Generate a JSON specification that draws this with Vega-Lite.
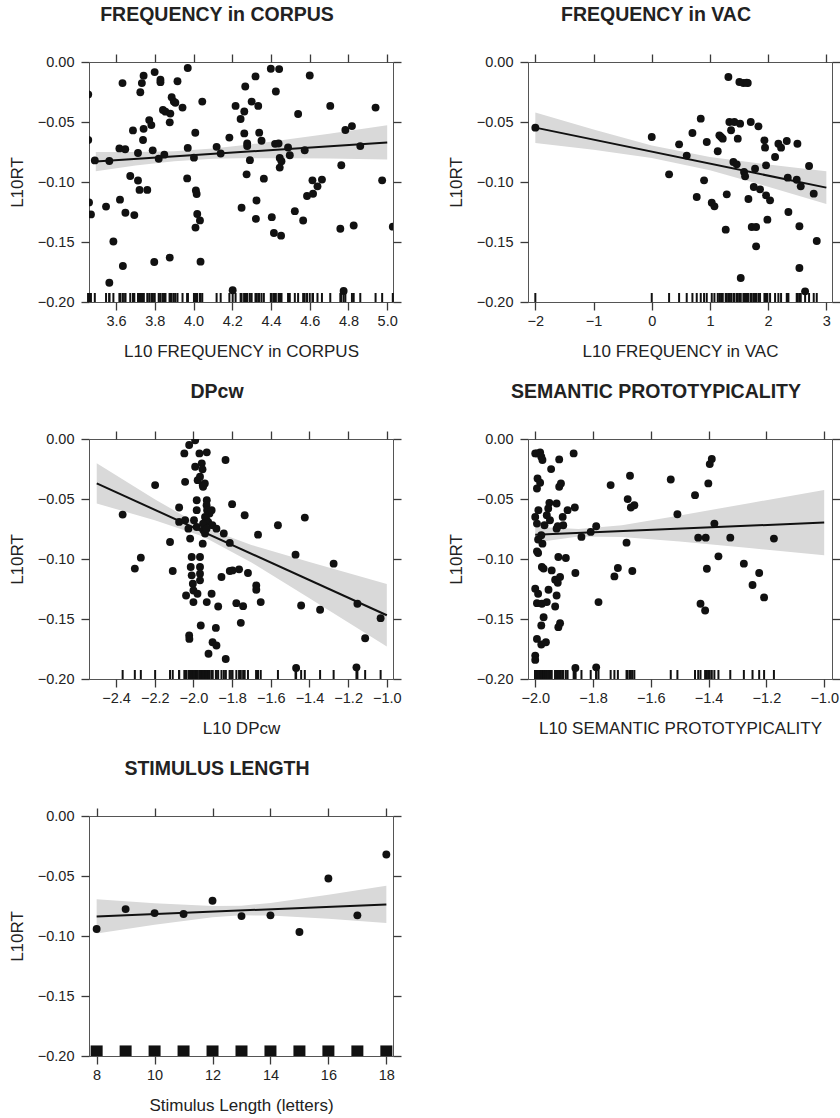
{
"$schema": "https://vega.github.io/schema/vega-lite/v6.json",
"background": "white",
"padding": {"left": 7, "top": 4, "right": 0, "bottom": 0},
"config": {
 "view": {"stroke": "#555", "strokeWidth": 1},
 "axis": {"domain": false, "grid": false, "ticks": true, "tickColor": "#3a3a3a", "tickSize": 8, "tickWidth": 1.3, "labelFont": "Liberation Sans", "labelFontSize": 14.5, "labelColor": "#222", "labelFlush": false, "labelOverlap": false, "titleFont": "Liberation Sans", "titleFontSize": 17, "titleFontWeight": "normal", "titleColor": "#222"},
 "axisX": {"labelPadding": 4, "titlePadding": 16},
 "axisY": {"labelPadding": 7, "titlePadding": 11},
 "title": {"font": "Liberation Sans", "fontSize": 19.5, "fontWeight": "bold", "color": "#222", "anchor": "middle", "frame": "group", "dx": -24, "offset": 28}
},
"datasets": {
 "p1": [{"x":3.456,"y":-0.027},{"x":3.456,"y":-0.065},{"x":3.46,"y":-0.117},{"x":3.47,"y":-0.127},{"x":3.49,"y":-0.082},{"x":3.548,"y":-0.1205},{"x":3.565,"y":-0.0825},{"x":3.565,"y":-0.184},{"x":3.586,"y":-0.1496},{"x":3.617,"y":-0.072},{"x":3.62,"y":-0.1147},{"x":3.633,"y":-0.0176},{"x":3.635,"y":-0.17},{"x":3.647,"y":-0.0727},{"x":3.648,"y":-0.1256},{"x":3.673,"y":-0.095},{"x":3.687,"y":-0.057},{"x":3.694,"y":-0.1276},{"x":3.713,"y":-0.0987},{"x":3.713,"y":-0.0758},{"x":3.721,"y":-0.1066},{"x":3.725,"y":-0.0252},{"x":3.733,"y":-0.0176},{"x":3.742,"y":-0.0115},{"x":3.742,"y":-0.0557},{"x":3.739,"y":-0.065},{"x":3.761,"y":-0.1066},{"x":3.771,"y":-0.0484},{"x":3.782,"y":-0.0526},{"x":3.789,"y":-0.0736},{"x":3.797,"y":-0.1667},{"x":3.799,"y":-0.0084},{"x":3.82,"y":-0.0806},{"x":3.829,"y":-0.0148},{"x":3.829,"y":-0.0168},{"x":3.842,"y":-0.04},{"x":3.849,"y":-0.0772},{"x":3.855,"y":-0.0414},{"x":3.877,"y":-0.0503},{"x":3.88,"y":-0.043},{"x":3.877,"y":-0.163},{"x":3.887,"y":-0.0294},{"x":3.898,"y":-0.033},{"x":3.906,"y":-0.034},{"x":3.917,"y":-0.016},{"x":3.943,"y":-0.038},{"x":3.967,"y":-0.097},{"x":3.97,"y":-0.005},{"x":3.97,"y":-0.0716},{"x":4.002,"y":-0.0797},{"x":4.009,"y":-0.059},{"x":4.012,"y":-0.107},{"x":4.016,"y":-0.11},{"x":4.019,"y":-0.1267},{"x":4.01,"y":-0.138},{"x":4.033,"y":-0.132},{"x":4.036,"y":-0.1664},{"x":4.045,"y":-0.033},{"x":4.119,"y":-0.0707},{"x":4.14,"y":-0.0763},{"x":4.185,"y":-0.063},{"x":4.217,"y":-0.0366},{"x":4.243,"y":-0.0475},{"x":4.248,"y":-0.1215},{"x":4.262,"y":-0.0413},{"x":4.262,"y":-0.0595},{"x":4.267,"y":-0.0204},{"x":4.274,"y":-0.0936},{"x":4.277,"y":-0.0679},{"x":4.277,"y":-0.0701},{"x":4.291,"y":-0.0818},{"x":4.3,"y":-0.033},{"x":4.32,"y":-0.012},{"x":4.322,"y":-0.1307},{"x":4.325,"y":-0.1154},{"x":4.334,"y":-0.0366},{"x":4.339,"y":-0.0589},{"x":4.351,"y":-0.0656},{"x":4.363,"y":-0.0972},{"x":4.399,"y":-0.0056},{"x":4.404,"y":-0.1293},{"x":4.415,"y":-0.1425},{"x":4.421,"y":-0.0682},{"x":4.425,"y":-0.0246},{"x":4.439,"y":-0.0679},{"x":4.442,"y":-0.0059},{"x":4.445,"y":-0.0799},{"x":4.454,"y":-0.0827},{"x":4.445,"y":-0.088},{"x":4.452,"y":-0.1447},{"x":4.488,"y":-0.0712},{"x":4.497,"y":-0.0777},{"x":4.523,"y":-0.1243},{"x":4.54,"y":-0.0433},{"x":4.566,"y":-0.1321},{"x":4.574,"y":-0.0735},{"x":4.586,"y":-0.1117},{"x":4.6,"y":-0.0112},{"x":4.614,"y":-0.0986},{"x":4.617,"y":-0.1098},{"x":4.64,"y":-0.1036},{"x":4.663,"y":-0.098},{"x":4.706,"y":-0.0366},{"x":4.763,"y":-0.086},{"x":4.758,"y":-0.139},{"x":4.775,"y":-0.1908},{"x":4.784,"y":-0.0567},{"x":4.818,"y":-0.0534},{"x":4.827,"y":-0.1363},{"x":4.861,"y":-0.0701},{"x":4.94,"y":-0.038},{"x":4.974,"y":-0.0986},{"x":5.029,"y":-0.1372},{"x":4.202,"y":-0.1902}],
 "b1": [{"x":3.495,"lo":-0.0911,"hi":-0.0749},{"x":3.7,"lo":-0.0862,"hi":-0.075},{"x":3.9,"lo":-0.0827,"hi":-0.0743},{"x":4.1,"lo":-0.0807,"hi":-0.0721},{"x":4.3,"lo":-0.0801,"hi":-0.0685},{"x":4.5,"lo":-0.0802,"hi":-0.0642},{"x":4.7,"lo":-0.0805,"hi":-0.0597},{"x":4.85,"lo":-0.0809,"hi":-0.0563},{"x":5.0,"lo":-0.0812,"hi":-0.0528}],
 "l1": [{"x":3.495,"y":-0.083},{"x":5.0,"y":-0.067}],
 "p2": [{"x":-2.0,"y":-0.0547},{"x":0,"y":-0.0625},{"x":0.298,"y":-0.0936},{"x":0.47,"y":-0.0686},{"x":0.601,"y":-0.078},{"x":0.699,"y":-0.0592},{"x":0.773,"y":-0.1125},{"x":0.842,"y":-0.0472},{"x":0.899,"y":-0.0986},{"x":0.945,"y":-0.0667},{"x":1.031,"y":-0.1172},{"x":1.077,"y":-0.1203},{"x":1.134,"y":-0.0744},{"x":1.162,"y":-0.0611},{"x":1.191,"y":-0.0625},{"x":1.22,"y":-0.0639},{"x":1.271,"y":-0.1397},{"x":1.289,"y":-0.1103},{"x":1.317,"y":-0.0125},{"x":1.334,"y":-0.05},{"x":1.363,"y":-0.0569},{"x":1.403,"y":-0.0833},{"x":1.42,"y":-0.05},{"x":1.46,"y":-0.0853},{"x":1.478,"y":-0.0639},{"x":1.506,"y":-0.0167},{"x":1.518,"y":-0.0514},{"x":1.529,"y":-0.18},{"x":1.575,"y":-0.0175},{"x":1.586,"y":-0.0917},{"x":1.604,"y":-0.0953},{"x":1.632,"y":-0.0172},{"x":1.65,"y":-0.0175},{"x":1.661,"y":-0.1142},{"x":1.701,"y":-0.05},{"x":1.718,"y":-0.1375},{"x":1.753,"y":-0.1042},{"x":1.775,"y":-0.0889},{"x":1.793,"y":-0.1375},{"x":1.793,"y":-0.1536},{"x":1.833,"y":-0.0536},{"x":1.861,"y":-0.1061},{"x":1.936,"y":-0.0653},{"x":1.947,"y":-0.0714},{"x":1.964,"y":-0.1111},{"x":1.964,"y":-0.0861},{"x":1.987,"y":-0.1314},{"x":2.033,"y":-0.1153},{"x":2.119,"y":-0.0792},{"x":2.176,"y":-0.0681},{"x":2.222,"y":-0.0714},{"x":2.32,"y":-0.0658},{"x":2.337,"y":-0.0964},{"x":2.348,"y":-0.125},{"x":2.503,"y":-0.0681},{"x":2.491,"y":-0.0981},{"x":2.537,"y":-0.1717},{"x":2.537,"y":-0.1369},{"x":2.56,"y":-0.1036},{"x":2.635,"y":-0.1911},{"x":2.703,"y":-0.0867},{"x":2.783,"y":-0.1097},{"x":2.835,"y":-0.1492}],
 "b2": [{"x":-2,"lo":-0.0674,"hi":-0.042},{"x":-1,"lo":-0.0731,"hi":-0.0563},{"x":0,"lo":-0.0799,"hi":-0.0695},{"x":1,"lo":-0.0903,"hi":-0.0791},{"x":2,"lo":-0.1039,"hi":-0.0855},{"x":3,"lo":-0.1183,"hi":-0.0911}],
 "l2": [{"x":-2,"y":-0.0547},{"x":3,"y":-0.1047}],
 "p3": [{"x":-2.366,"y":-0.063},{"x":-2.303,"y":-0.108},{"x":-2.272,"y":-0.0989},{"x":-2.198,"y":-0.0384},{"x":-2.121,"y":-0.0858},{"x":-2.107,"y":-0.11},{"x":-2.074,"y":-0.0571},{"x":-2.074,"y":-0.0691},{"x":-2.043,"y":-0.0677},{"x":-2.038,"y":-0.1304},{"x":-2.022,"y":-0.1638},{"x":-2.021,"y":-0.1666},{"x":-2.047,"y":-0.012},{"x":-2.022,"y":-0.005},{"x":-2.043,"y":-0.0357},{"x":-2.026,"y":-0.0747},{"x":-2.017,"y":-0.083},{"x":-2.009,"y":-0.0983},{"x":-2.014,"y":-0.1067},{"x":-2.009,"y":-0.1136},{"x":-2.003,"y":-0.1206},{"x":-2.0,"y":-0.1262},{"x":-2.0,"y":-0.1359},{"x":-1.991,"y":-0.001},{"x":-1.991,"y":-0.0231},{"x":-1.983,"y":-0.051},{"x":-1.983,"y":-0.0593},{"x":-1.997,"y":-0.0677},{"x":-1.983,"y":-0.0733},{"x":-1.978,"y":-0.0343},{"x":-1.966,"y":-0.0315},{"x":-1.966,"y":-0.0983},{"x":-1.969,"y":-0.012},{"x":-1.966,"y":-0.1067},{"x":-1.966,"y":-0.1123},{"x":-1.966,"y":-0.1178},{"x":-1.979,"y":-0.129},{"x":-1.962,"y":-0.1554},{"x":-1.957,"y":-0.0203},{"x":-1.952,"y":-0.0384},{"x":-1.948,"y":-0.076},{"x":-1.952,"y":-0.0872},{"x":-1.94,"y":-0.0788},{"x":-1.931,"y":-0.0111},{"x":-1.931,"y":-0.051},{"x":-1.931,"y":-0.1359},{"x":-1.922,"y":-0.179},{"x":-1.917,"y":-0.0621},{"x":-1.94,"y":-0.065},{"x":-1.953,"y":-0.0253},{"x":-1.941,"y":-0.037},{"x":-1.95,"y":-0.0398},{"x":-1.932,"y":-0.0552},{"x":-1.929,"y":-0.0593},{"x":-1.906,"y":-0.0593},{"x":-1.935,"y":-0.0663},{"x":-1.924,"y":-0.0691},{"x":-1.95,"y":-0.0705},{"x":-1.902,"y":-0.0719},{"x":-1.881,"y":-0.0747},{"x":-1.932,"y":-0.0747},{"x":-1.843,"y":-0.0788},{"x":-1.834,"y":-0.0175},{"x":-1.812,"y":-0.0866},{"x":-1.8,"y":-0.0543},{"x":-1.855,"y":-0.115},{"x":-1.812,"y":-0.11},{"x":-1.798,"y":-0.1095},{"x":-1.764,"y":-0.1086},{"x":-1.718,"y":-0.1117},{"x":-1.735,"y":-0.0635},{"x":-1.666,"y":-0.0797},{"x":-1.675,"y":-0.122},{"x":-1.675,"y":-0.1256},{"x":-1.652,"y":-0.1359},{"x":-1.563,"y":-0.0719},{"x":-1.424,"y":-0.0655},{"x":-1.472,"y":-0.0964},{"x":-1.275,"y":-0.1039},{"x":-1.906,"y":-0.129},{"x":-1.872,"y":-0.1396},{"x":-1.778,"y":-0.1368},{"x":-1.743,"y":-0.1393},{"x":-1.443,"y":-0.1387},{"x":-1.345,"y":-0.1423},{"x":-1.152,"y":-0.1373},{"x":-1.032,"y":-0.1493},{"x":-1.112,"y":-0.166},{"x":-1.884,"y":-0.1574},{"x":-1.901,"y":-0.1694},{"x":-1.881,"y":-0.1721},{"x":-1.755,"y":-0.1532},{"x":-1.833,"y":-0.1833},{"x":-1.469,"y":-0.1908},{"x":-1.157,"y":-0.1903}],
 "b3": [{"x":-2.5,"lo":-0.0537,"hi":-0.0203},{"x":-2.2,"lo":-0.0678,"hi":-0.0502},{"x":-1.95,"lo":-0.0813,"hi":-0.0733},{"x":-1.7,"lo":-0.1029,"hi":-0.0883},{"x":-1.4,"lo":-0.1327,"hi":-0.1025},{"x":-1.0,"lo":-0.173,"hi":-0.1208}],
 "l3": [{"x":-2.5,"y":-0.037},{"x":-1.0,"y":-0.1469}],
 "p4": [{"x":-2.0,"y":-0.012},{"x":-1.994,"y":-0.012},{"x":-1.983,"y":-0.0111},{"x":-1.979,"y":-0.0148},{"x":-1.975,"y":-0.0175},{"x":-1.992,"y":-0.0329},{"x":-1.994,"y":-0.0412},{"x":-1.983,"y":-0.0365},{"x":-1.945,"y":-0.0251},{"x":-1.917,"y":-0.017},{"x":-1.917,"y":-0.0398},{"x":-1.911,"y":-0.037},{"x":-1.867,"y":-0.012},{"x":-2.0,"y":-0.0649},{"x":-1.994,"y":-0.0705},{"x":-1.989,"y":-0.0593},{"x":-1.968,"y":-0.0719},{"x":-1.951,"y":-0.0532},{"x":-1.955,"y":-0.0579},{"x":-1.96,"y":-0.0635},{"x":-1.949,"y":-0.0677},{"x":-1.926,"y":-0.0538},{"x":-1.922,"y":-0.0727},{"x":-1.905,"y":-0.0649},{"x":-1.903,"y":-0.0719},{"x":-1.888,"y":-0.0593},{"x":-1.863,"y":-0.0571},{"x":-1.926,"y":-0.0747},{"x":-1.979,"y":-0.0802},{"x":-1.99,"y":-0.0838},{"x":-1.975,"y":-0.0872},{"x":-1.84,"y":-0.0816},{"x":-1.808,"y":-0.0774},{"x":-1.789,"y":-0.0727},{"x":-1.994,"y":-0.0936},{"x":-1.99,"y":-0.095},{"x":-1.977,"y":-0.1067},{"x":-1.971,"y":-0.108},{"x":-1.92,"y":-0.0983},{"x":-1.894,"y":-0.0992},{"x":-1.861,"y":-0.1117},{"x":-1.943,"y":-0.1095},{"x":-1.931,"y":-0.1173},{"x":-1.922,"y":-0.1198},{"x":-1.914,"y":-0.115},{"x":-2.0,"y":-0.1248},{"x":-1.99,"y":-0.129},{"x":-1.954,"y":-0.1256},{"x":-1.926,"y":-0.1304},{"x":-1.994,"y":-0.1368},{"x":-1.977,"y":-0.1373},{"x":-1.96,"y":-0.1359},{"x":-1.931,"y":-0.1396},{"x":-1.781,"y":-0.1359},{"x":-1.971,"y":-0.1485},{"x":-1.979,"y":-0.1554},{"x":-1.92,"y":-0.1568},{"x":-1.914,"y":-0.1535},{"x":-1.994,"y":-0.1666},{"x":-1.979,"y":-0.1713},{"x":-1.963,"y":-0.1694},{"x":-2.0,"y":-0.1805},{"x":-2.0,"y":-0.1841},{"x":-1.861,"y":-0.1908},{"x":-1.789,"y":-0.1903},{"x":-1.739,"y":-0.0384},{"x":-1.726,"y":-0.1145},{"x":-1.714,"y":-0.1075},{"x":-1.672,"y":-0.0306},{"x":-1.68,"y":-0.0501},{"x":-1.669,"y":-0.0571},{"x":-1.657,"y":-0.0552},{"x":-1.684,"y":-0.0864},{"x":-1.664,"y":-0.11},{"x":-1.531,"y":-0.0337},{"x":-1.508,"y":-0.0627},{"x":-1.447,"y":-0.0468},{"x":-1.401,"y":-0.037},{"x":-1.396,"y":-0.0209},{"x":-1.389,"y":-0.0167},{"x":-1.38,"y":-0.0705},{"x":-1.436,"y":-0.0822},{"x":-1.41,"y":-0.0822},{"x":-1.325,"y":-0.0822},{"x":-1.174,"y":-0.083},{"x":-1.366,"y":-0.0978},{"x":-1.406,"y":-0.1081},{"x":-1.278,"y":-0.1039},{"x":-1.225,"y":-0.1117},{"x":-1.248,"y":-0.1217},{"x":-1.208,"y":-0.132},{"x":-1.428,"y":-0.1373},{"x":-1.412,"y":-0.1429}],
 "b4": [{"x":-2.0,"lo":-0.0863,"hi":-0.0731},{"x":-1.85,"lo":-0.0813,"hi":-0.0751},{"x":-1.7,"lo":-0.0816,"hi":-0.0718},{"x":-1.5,"lo":-0.0855,"hi":-0.0637},{"x":-1.25,"lo":-0.0911,"hi":-0.0531},{"x":-1.0,"lo":-0.0968,"hi":-0.0424}],
 "l4": [{"x":-2.0,"y":-0.0797},{"x":-1.0,"y":-0.0696}],
 "p5": [{"x":8,"y":-0.0942},{"x":9,"y":-0.0776},{"x":10,"y":-0.0809},{"x":11,"y":-0.0817},{"x":12,"y":-0.0706},{"x":13,"y":-0.0834},{"x":14,"y":-0.0828},{"x":15,"y":-0.0967},{"x":16,"y":-0.0521},{"x":17,"y":-0.0828},{"x":18,"y":-0.0321}],
 "b5": [{"x":8,"lo":-0.098,"hi":-0.0694},{"x":10,"lo":-0.0907,"hi":-0.0727},{"x":12,"lo":-0.0843,"hi":-0.0751},{"x":13,"lo":-0.0827,"hi":-0.0747},{"x":14,"lo":-0.083,"hi":-0.0724},{"x":16,"lo":-0.0857,"hi":-0.0657},{"x":18,"lo":-0.0892,"hi":-0.0582}],
 "l5": [{"x":8,"y":-0.0837},{"x":18,"y":-0.0737}]
},
"columns": 2,
"spacing": {"row": 21, "column": 43},
"concat": [
 {"title": "FREQUENCY in CORPUS", "width": 304, "height": 240,
  "resolve": {"axis": {"x": "independent", "y": "independent"}},
  "layer": [
   {"data": {"name": "b1"}, "mark": {"type": "area", "color": "#d9d9d9"},
    "encoding": {"x": {"field": "x", "type": "quantitative", "scale": {"domain": [3.46, 5.03], "nice": false, "zero": false}, "axis": {"orient": "bottom", "values": [3.6, 3.8, 4.0, 4.2, 4.4, 4.6, 4.8, 5.0], "format": ".1f", "title": "L10 FREQUENCY in CORPUS"}},
     "y": {"field": "lo", "type": "quantitative", "scale": {"domain": [-0.2, 0], "nice": false, "zero": false}, "axis": {"orient": "left", "values": [0, -0.05, -0.1, -0.15, -0.2], "format": ".2f", "title": "L10RT"}},
     "y2": {"field": "hi"}}},
   {"data": {"name": "l1"}, "mark": {"type": "line", "color": "#111", "strokeWidth": 2},
    "encoding": {"x": {"field": "x", "type": "quantitative", "axis": {"orient": "top", "values": [3.6, 3.8, 4.0, 4.2, 4.4, 4.6, 4.8, 5.0], "labels": false, "title": null}},
     "y": {"field": "y", "type": "quantitative", "axis": {"orient": "right", "values": [0, -0.05, -0.1, -0.15, -0.2], "labels": false, "title": null}}}},
   {"data": {"name": "p1"}, "mark": {"type": "circle", "size": 62, "color": "#111", "opacity": 1, "clip": true},
    "encoding": {"x": {"field": "x", "type": "quantitative", "axis": null}, "y": {"field": "y", "type": "quantitative", "axis": null}}},
   {"data": {"name": "p1"}, "mark": {"type": "rule", "color": "#111", "strokeWidth": 2},
    "encoding": {"x": {"field": "x", "type": "quantitative", "axis": null}, "y": {"datum": -0.2, "type": "quantitative", "axis": null}, "y2": {"datum": -0.1925}}}
  ]},
 {"title": "FREQUENCY in VAC", "width": 304, "height": 240,
  "resolve": {"axis": {"x": "independent", "y": "independent"}},
  "layer": [
   {"data": {"name": "b2"}, "mark": {"type": "area", "color": "#d9d9d9"},
    "encoding": {"x": {"field": "x", "type": "quantitative", "scale": {"domain": [-2.126, 3.097], "nice": false, "zero": false}, "axis": {"orient": "bottom", "values": [-2, -1, 0, 1, 2, 3], "format": "d", "title": "L10 FREQUENCY in VAC"}},
     "y": {"field": "lo", "type": "quantitative", "scale": {"domain": [-0.2, 0], "nice": false, "zero": false}, "axis": {"orient": "left", "values": [0, -0.05, -0.1, -0.15, -0.2], "format": ".2f", "title": "L10RT"}},
     "y2": {"field": "hi"}}},
   {"data": {"name": "l2"}, "mark": {"type": "line", "color": "#111", "strokeWidth": 2},
    "encoding": {"x": {"field": "x", "type": "quantitative", "axis": {"orient": "top", "values": [-2, -1, 0, 1, 2, 3], "labels": false, "title": null}},
     "y": {"field": "y", "type": "quantitative", "axis": {"orient": "right", "values": [0, -0.05, -0.1, -0.15, -0.2], "labels": false, "title": null}}}},
   {"data": {"name": "p2"}, "mark": {"type": "circle", "size": 62, "color": "#111", "opacity": 1, "clip": true},
    "encoding": {"x": {"field": "x", "type": "quantitative", "axis": null}, "y": {"field": "y", "type": "quantitative", "axis": null}}},
   {"data": {"name": "p2"}, "mark": {"type": "rule", "color": "#111", "strokeWidth": 2},
    "encoding": {"x": {"field": "x", "type": "quantitative", "axis": null}, "y": {"datum": -0.2, "type": "quantitative", "axis": null}, "y2": {"datum": -0.1925}}}
  ]},
 {"title": "DPcw", "width": 304, "height": 240,
  "resolve": {"axis": {"x": "independent", "y": "independent"}},
  "layer": [
   {"data": {"name": "b3"}, "mark": {"type": "area", "color": "#d9d9d9"},
    "encoding": {"x": {"field": "x", "type": "quantitative", "scale": {"domain": [-2.54, -0.968], "nice": false, "zero": false}, "axis": {"orient": "bottom", "values": [-2.4, -2.2, -2.0, -1.8, -1.6, -1.4, -1.2, -1.0], "format": ".1f", "title": "L10 DPcw"}},
     "y": {"field": "lo", "type": "quantitative", "scale": {"domain": [-0.2, 0], "nice": false, "zero": false}, "axis": {"orient": "left", "values": [0, -0.05, -0.1, -0.15, -0.2], "format": ".2f", "title": "L10RT"}},
     "y2": {"field": "hi"}}},
   {"data": {"name": "l3"}, "mark": {"type": "line", "color": "#111", "strokeWidth": 2},
    "encoding": {"x": {"field": "x", "type": "quantitative", "axis": {"orient": "top", "values": [-2.4, -2.2, -2.0, -1.8, -1.6, -1.4, -1.2, -1.0], "labels": false, "title": null}},
     "y": {"field": "y", "type": "quantitative", "axis": {"orient": "right", "values": [0, -0.05, -0.1, -0.15, -0.2], "labels": false, "title": null}}}},
   {"data": {"name": "p3"}, "mark": {"type": "circle", "size": 62, "color": "#111", "opacity": 1, "clip": true},
    "encoding": {"x": {"field": "x", "type": "quantitative", "axis": null}, "y": {"field": "y", "type": "quantitative", "axis": null}}},
   {"data": {"name": "p3"}, "mark": {"type": "rule", "color": "#111", "strokeWidth": 2},
    "encoding": {"x": {"field": "x", "type": "quantitative", "axis": null}, "y": {"datum": -0.2, "type": "quantitative", "axis": null}, "y2": {"datum": -0.1925}}}
  ]},
 {"title": "SEMANTIC PROTOTYPICALITY", "width": 304, "height": 240,
  "resolve": {"axis": {"x": "independent", "y": "independent"}},
  "layer": [
   {"data": {"name": "b4"}, "mark": {"type": "area", "color": "#d9d9d9"},
    "encoding": {"x": {"field": "x", "type": "quantitative", "scale": {"domain": [-2.025, -0.973], "nice": false, "zero": false}, "axis": {"orient": "bottom", "values": [-2.0, -1.8, -1.6, -1.4, -1.2, -1.0], "format": ".1f", "title": "L10 SEMANTIC PROTOTYPICALITY"}},
     "y": {"field": "lo", "type": "quantitative", "scale": {"domain": [-0.2, 0], "nice": false, "zero": false}, "axis": {"orient": "left", "values": [0, -0.05, -0.1, -0.15, -0.2], "format": ".2f", "title": "L10RT"}},
     "y2": {"field": "hi"}}},
   {"data": {"name": "l4"}, "mark": {"type": "line", "color": "#111", "strokeWidth": 2},
    "encoding": {"x": {"field": "x", "type": "quantitative", "axis": {"orient": "top", "values": [-2.0, -1.8, -1.6, -1.4, -1.2, -1.0], "labels": false, "title": null}},
     "y": {"field": "y", "type": "quantitative", "axis": {"orient": "right", "values": [0, -0.05, -0.1, -0.15, -0.2], "labels": false, "title": null}}}},
   {"data": {"name": "p4"}, "mark": {"type": "circle", "size": 62, "color": "#111", "opacity": 1, "clip": true},
    "encoding": {"x": {"field": "x", "type": "quantitative", "axis": null}, "y": {"field": "y", "type": "quantitative", "axis": null}}},
   {"data": {"name": "p4"}, "mark": {"type": "rule", "color": "#111", "strokeWidth": 2},
    "encoding": {"x": {"field": "x", "type": "quantitative", "axis": null}, "y": {"datum": -0.2, "type": "quantitative", "axis": null}, "y2": {"datum": -0.1925}}}
  ]},
 {"title": "STIMULUS LENGTH", "width": 304, "height": 240,
  "resolve": {"axis": {"x": "independent", "y": "independent"}},
  "layer": [
   {"data": {"name": "b5"}, "mark": {"type": "area", "color": "#d9d9d9"},
    "encoding": {"x": {"field": "x", "type": "quantitative", "scale": {"domain": [7.736, 18.23], "nice": false, "zero": false}, "axis": {"orient": "bottom", "values": [8, 10, 12, 14, 16, 18], "format": "d", "title": "Stimulus Length (letters)"}},
     "y": {"field": "lo", "type": "quantitative", "scale": {"domain": [-0.2, 0], "nice": false, "zero": false}, "axis": {"orient": "left", "values": [0, -0.05, -0.1, -0.15, -0.2], "format": ".2f", "title": "L10RT"}},
     "y2": {"field": "hi"}}},
   {"data": {"name": "l5"}, "mark": {"type": "line", "color": "#111", "strokeWidth": 2},
    "encoding": {"x": {"field": "x", "type": "quantitative", "axis": {"orient": "top", "values": [8, 10, 12, 14, 16, 18], "labels": false, "title": null}},
     "y": {"field": "y", "type": "quantitative", "axis": {"orient": "right", "values": [0, -0.05, -0.1, -0.15, -0.2], "labels": false, "title": null}}}},
   {"data": {"name": "p5"}, "mark": {"type": "circle", "size": 62, "color": "#111", "opacity": 1, "clip": true},
    "encoding": {"x": {"field": "x", "type": "quantitative", "axis": null}, "y": {"field": "y", "type": "quantitative", "axis": null}}},
   {"data": {"name": "p5"}, "mark": {"type": "rule", "color": "#111", "strokeWidth": 12},
    "encoding": {"x": {"field": "x", "type": "quantitative", "axis": null}, "y": {"datum": -0.2, "type": "quantitative", "axis": null}, "y2": {"datum": -0.1912}}}
  ]}
]
}
